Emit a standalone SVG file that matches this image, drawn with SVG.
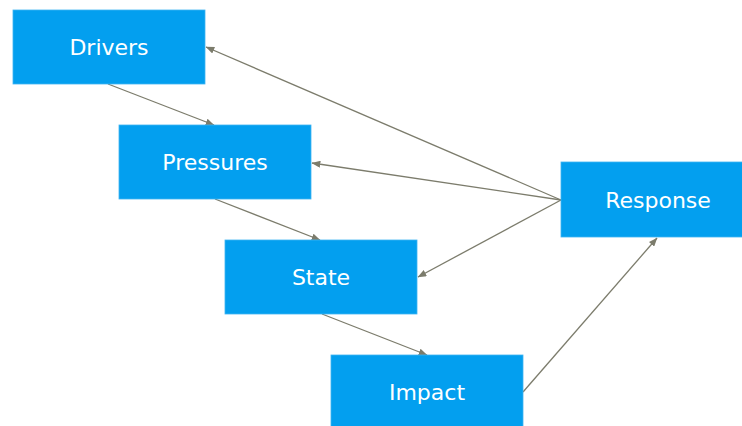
<svg xmlns="http://www.w3.org/2000/svg" width="742" height="426" viewBox="0 0 742 426">
  <style>
    .box { fill: #039FEF; stroke: #3FB4F2; stroke-width: 0.8; }
    .label { fill: #FFFFFF; font-family: "DejaVu Sans", Verdana, sans-serif; font-size: 22px; text-anchor: middle; }
    .link { stroke: #7C7C6C; stroke-width: 1.3; fill: none; marker-end: url(#head); }
  </style>
  <defs>
    <marker id="head" viewBox="0 0 10 8" refX="9.5" refY="4" markerWidth="9" markerHeight="7" markerUnits="userSpaceOnUse" orient="auto">
      <path d="M0,0 L10,4 L0,8 Z" fill="#7C7C6C"/>
    </marker>
  </defs>

  <g id="connectors">
    <line class="link" x1="108" y1="84" x2="214" y2="125"/>
    <line class="link" x1="215" y1="199" x2="320" y2="240"/>
    <line class="link" x1="322" y1="314" x2="427" y2="355"/>
    <line class="link" x1="523" y1="392" x2="657" y2="238"/>
    <line class="link" x1="561" y1="200" x2="206" y2="47"/>
    <line class="link" x1="561" y1="200" x2="312" y2="163"/>
    <line class="link" x1="561" y1="200" x2="418" y2="277"/>
  </g>

  <g id="drivers">
    <rect class="box" x="13" y="10" width="192" height="74"/>
    <text class="label" x="109" y="55">Drivers</text>
  </g>
  <g id="pressures">
    <rect class="box" x="119" y="125" width="192" height="74"/>
    <text class="label" x="215" y="170">Pressures</text>
  </g>
  <g id="state">
    <rect class="box" x="225" y="240" width="192" height="74"/>
    <text class="label" x="321" y="285">State</text>
  </g>
  <g id="impact">
    <rect class="box" x="331" y="355" width="192" height="74"/>
    <text class="label" x="427" y="400">Impact</text>
  </g>
  <g id="response">
    <rect class="box" x="561" y="162" width="192" height="75"/>
    <text class="label" x="658" y="208">Response</text>
  </g>
</svg>
